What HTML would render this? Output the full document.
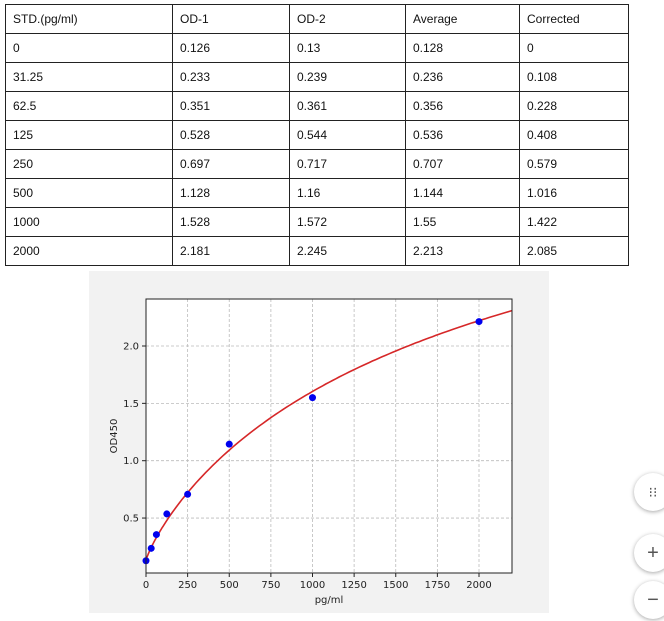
<!DOCTYPE html>
<html><head><meta charset="utf-8"><style>
body{margin:0;width:664px;height:621px;background:#fff;position:relative;overflow:hidden;font-family:"Liberation Sans",sans-serif}
table{position:absolute;left:5px;top:4px;border-collapse:collapse;font-size:12px;color:#111}
td{border:1px solid #222;height:29px;padding:0 0 0 7px;box-sizing:border-box;vertical-align:middle}
.btn{position:absolute;width:38px;height:38px;border-radius:50%;background:#fff;box-shadow:0 1px 4px rgba(0,0,0,.35);color:#555;font-size:20px;text-align:center;line-height:38px}
</style></head><body>
<table>
<colgroup><col style="width:167px"><col style="width:117px"><col style="width:116px"><col style="width:114px"><col style="width:109px"></colgroup>
<tr><td>STD.(pg/ml)</td><td>OD-1</td><td>OD-2</td><td>Average</td><td>Corrected</td></tr>
<tr><td>0</td><td>0.126</td><td>0.13</td><td>0.128</td><td>0</td></tr>
<tr><td>31.25</td><td>0.233</td><td>0.239</td><td>0.236</td><td>0.108</td></tr>
<tr><td>62.5</td><td>0.351</td><td>0.361</td><td>0.356</td><td>0.228</td></tr>
<tr><td>125</td><td>0.528</td><td>0.544</td><td>0.536</td><td>0.408</td></tr>
<tr><td>250</td><td>0.697</td><td>0.717</td><td>0.707</td><td>0.579</td></tr>
<tr><td>500</td><td>1.128</td><td>1.16</td><td>1.144</td><td>1.016</td></tr>
<tr><td>1000</td><td>1.528</td><td>1.572</td><td>1.55</td><td>1.422</td></tr>
<tr><td>2000</td><td>2.181</td><td>2.245</td><td>2.213</td><td>2.085</td></tr>
</table>
<svg id="s" width="664" height="621" style="position:absolute;left:0;top:0" font-family="DejaVu Sans, sans-serif">
<rect x="89" y="271" width="460" height="342" fill="#f2f2f2"/>
<rect x="146" y="299" width="366" height="274" fill="#fff"/>
<g id="grid" stroke="#bbb" stroke-dasharray="3,2" stroke-width="0.8"></g>
<path id="curve" fill="none" stroke="#d62728" stroke-width="1.6"/>
<g id="pts" fill="#0000ee"></g>
<rect x="146" y="299" width="366" height="274" fill="none" stroke="#222" stroke-width="1"/>
<g id="ticks" font-size="10" fill="#222"></g>
<text x="329" y="603" font-size="10" text-anchor="middle" fill="#222">pg/ml</text>
<text transform="translate(117,436) rotate(-90)" font-size="10" text-anchor="middle" fill="#222">OD450</text>
</svg>
<div class="btn" style="left:634px;top:473px;font-size:14px">⁝⁝</div>
<div class="btn" style="left:634px;top:534px">+</div>
<div class="btn" style="left:634px;top:581px">−</div>
<script>
const X=x=>146+x*0.1665, Y=y=>346-(y-2)*114.7;
const ns="http://www.w3.org/2000/svg";
function el(p,t,a,txt){const e=document.createElementNS(ns,t);for(const k in a)e.setAttribute(k,a[k]);if(txt)e.textContent=txt;document.getElementById(p).appendChild(e);}
for(let v=0;v<=2000;v+=250){el('grid','line',{x1:X(v),x2:X(v),y1:299,y2:573});el('ticks','line',{x1:X(v),x2:X(v),y1:573,y2:577,stroke:'#222'});el('ticks','text',{x:X(v),y:588,'text-anchor':'middle'},String(v));}
for(const v of [0.5,1,1.5,2]){el('grid','line',{x1:146,x2:512,y1:Y(v),y2:Y(v)});el('ticks','line',{x1:142,x2:146,y1:Y(v),y2:Y(v),stroke:'#222'});el('ticks','text',{x:139,y:Y(v)+3.5,'text-anchor':'end'},v.toFixed(1));}
const f=x=>4.5+(0.13-4.5)/(1+Math.pow(x/2214,0.85));
let d='';
for(let x=0;x<=2200;x+=(x<100?2:20)){d+=(d?'L':'M')+X(x).toFixed(1)+','+Y(f(x)).toFixed(1);}
document.getElementById('curve').setAttribute('d',d);
for(const [x,y] of [[0,0.128],[31.25,0.236],[62.5,0.356],[125,0.536],[250,0.707],[500,1.144],[1000,1.55],[2000,2.213]])el('pts','circle',{cx:X(x),cy:Y(y),r:3.5});
</script>
</body></html>
